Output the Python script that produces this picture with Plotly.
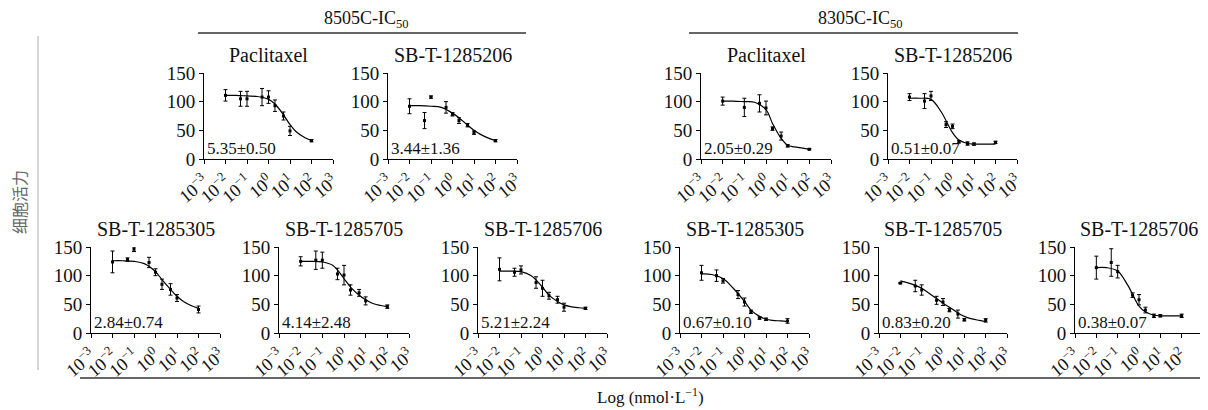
import plotly.graph_objects as go

# ---------------- data ----------------
conc = [0.01, 0.05, 0.1, 0.5, 1, 2, 5, 10, 100]
curve_x = [0.01, 0.03, 0.1, 0.3, 1, 2, 5, 10, 20, 50, 100]

titles = ["Paclitaxel", "SB-T-1285206", "Paclitaxel", "SB-T-1285206",
          "SB-T-1285305", "SB-T-1285705", "SB-T-1285706",
          "SB-T-1285305", "SB-T-1285705", "SB-T-1285706"]
ic50_text = ["5.35±0.50", "3.44±1.36", "2.05±0.29", "0.51±0.07",
             "2.84±0.74", "4.14±2.48", "5.21±2.24",
             "0.67±0.10", "0.83±0.20", "0.38±0.07"]

p1_mean = [111, 105, 105, 108, 108, 93, 75, 49, 32]
p1_err = [10, 13, 13, 15, 11, 10, 7, 8, 2]
p1_curve = [111, 111, 110, 109, 104, 96, 77, 60, 47, 37, 32]

p2_mean = [92, 67, 108, 90, 78, 67, 59, 46, 32]
p2_err = [13, 14, 2, 10, 3, 5, 3, 3, 2]
p2_curve = [93, 93, 92, 90, 80, 72, 59, 50, 43, 36, 32]

p3_mean = [101, None, 90, 97, 89, 53, 40, 23, 17]
p3_err = [7, 0, 16, 15, 12, 3, 7, 2, 1]
p3_curve = [101, 101, 100, 99, 86, 62, 36, 24, 21, 19, 17]

p4_mean = [108, 101, 110, 60, 57, 30, 27, 26, 29]
p4_err = [6, 13, 8, 5, 4, 2, 3, 2, 2]
p4_curve = [106, 106, 104, 82, 46, 33, 27, 26, 26, 26, 26]

p5_mean = [124, 128, 146, 123, 106, 85, 76, 61, 41]
p5_err = [19, 3, 4, 9, 6, 9, 10, 6, 6]
p5_curve = [126, 126, 125, 121, 107, 93, 76, 64, 55, 47, 43]

p6_mean = [125, 127, 127, 103, 101, 75, 70, 56, 46]
p6_err = [8, 16, 14, 10, 17, 9, 6, 7, 3]
p6_curve = [125, 125, 124, 118, 95, 80, 66, 58, 52, 48, 46]

p7_mean = [111, 106, 110, 88, 78, 65, 58, 45, 43]
p7_err = [20, 7, 7, 10, 14, 6, 6, 7, 2]
p7_curve = [108, 108, 107, 100, 80, 66, 55, 49, 46, 44, 43]

p8_mean = [105, 100, 91, 67, 54, 37, 26, 24, 21]
p8_err = [13, 10, 4, 7, 7, 3, 2, 2, 4]
p8_curve = [103, 102, 95, 78, 55, 40, 29, 24, 22, 21, 20]

p9_mean = [87, 82, 75, 57, 54, 40, 33, 23, 22]
p9_err = [1, 10, 9, 7, 6, 3, 7, 2, 3]
p9_curve = [91, 86, 78, 66, 52, 45, 35, 29, 25, 22, 20]

p10_mean = [114, 123, 107, 66, 58, 40, 30, 30, 30]
p10_err = [20, 24, 11, 4, 9, 5, 3, 2, 3]
p10_curve = [114, 114, 108, 83, 47, 37, 31, 30, 30, 30, 30]

x_tick_vals = [1e-3, 1e-2, 1e-1, 1, 10, 100, 1000]
x_tick_text = ["10<sup>−3</sup>", "10<sup>−2</sup>", "10<sup>−1</sup>", "10<sup>0</sup>",
               "10<sup>1</sup>", "10<sup>2</sup>", "10<sup>3</sup>"]
y_tick_vals = [0, 50, 100, 150]

means = [p1_mean, p2_mean, p3_mean, p4_mean, p5_mean, p6_mean, p7_mean, p8_mean, p9_mean, p10_mean]
errs = [p1_err, p2_err, p3_err, p4_err, p5_err, p6_err, p7_err, p8_err, p9_err, p10_err]
curves = [p1_curve, p2_curve, p3_curve, p4_curve, p5_curve, p6_curve, p7_curve, p8_curve, p9_curve, p10_curve]

# ---------------- layout geometry (window pixels) ----------------
OX, OY = 8, 8            # page body margin offset
W, H = 1200, 402         # figure size so that it fills the window exactly


def px(x):
    return (x - OX) / W


def py(y):
    return 1 - (y - OY) / H


panel_px = [(204, 333, 0), (388, 517, 0), (701, 831, 0), (888, 1017, 0),
            (91, 220, 1), (279, 409, 1), (478, 607, 1),
            (680, 809, 1), (879, 1007, 1), (1075, 1203, 1)]
row_y = {0: (73, 159), 1: (247, 333)}  # (pixel of 150, pixel of 0)

FONT = "Liberation Serif"

fig = go.Figure()
annotations = []
shapes = []

for i in range(10):
    l, r, row = panel_px[i]
    top, bot = row_y[row]
    ax = "" if i == 0 else str(i + 1)
    xa, ya = "x" + ax, "y" + ax
    fig.add_trace(go.Scatter(
        x=curve_x, y=curves[i], mode="lines", line=dict(color="black", width=1.2, shape="spline"),
        xaxis=xa, yaxis=ya, showlegend=False, hoverinfo="skip"))
    fig.add_trace(go.Scatter(
        x=conc, y=means[i], mode="markers",
        marker=dict(color="black", size=3, symbol="square"),
        error_y=dict(type="data", array=errs[i], color="black", thickness=1, width=2),
        xaxis=xa, yaxis=ya, showlegend=False, cliponaxis=False))
    fig.layout["xaxis" + ax] = dict(
        domain=[px(l), px(r)], anchor=ya, type="log", range=[-3, 3], automargin=False,
        tickvals=x_tick_vals, ticktext=x_tick_text, tickangle=-40,
        ticks="outside", ticklen=4, tickcolor="black", showline=True, linecolor="black",
        linewidth=1, showgrid=False, zeroline=False,
        tickfont=dict(family=FONT, size=18, color="#111"))
    fig.layout["yaxis" + ax] = dict(
        domain=[py(bot), py(top)], anchor=xa, range=[0, 150], automargin=False,
        tickvals=y_tick_vals, ticks="outside", ticklen=4, tickcolor="black",
        showline=True, linecolor="black", linewidth=1, showgrid=False, zeroline=False,
        tickfont=dict(family=FONT, size=19, color="#111"))
    annotations.append(dict(
        x=px((l + r) / 2), y=py(top - 18), xref="paper", yref="paper",
        text=titles[i], showarrow=False, xanchor="center", yanchor="middle",
        font=dict(family=FONT, size=20, color="#111")))
    annotations.append(dict(
        x=px(l + 1), y=py(bot - 11), xref="paper", yref="paper",
        text=ic50_text[i], showarrow=False, xanchor="left", yanchor="middle",
        font=dict(family=FONT, size=17, color="#111")))

for label, cx, x0, x1 in [("8505C-IC<sub>50</sub>", 366, 198, 526),
                          ("8305C-IC<sub>50</sub>", 860, 689, 1018)]:
    annotations.append(dict(x=px(cx), y=py(19), xref="paper", yref="paper", text=label,
                            showarrow=False, xanchor="center", yanchor="middle",
                            font=dict(family=FONT, size=18, color="#111")))
    shapes.append(dict(type="line", xref="paper", yref="paper", x0=px(x0), x1=px(x1),
                       y0=py(33), y1=py(33), line=dict(color="#333", width=1.3)))

annotations.append(dict(x=px(19), y=py(202), xref="paper", yref="paper", text="细胞活力",
                        showarrow=False, textangle=-90, xanchor="center", yanchor="middle",
                        font=dict(family="Noto Sans CJK SC", size=16, color="#666")))
shapes.append(dict(type="line", xref="paper", yref="paper", x0=px(38), x1=px(38),
                   y0=py(36), y1=py(370), line=dict(color="#c8c8c8", width=1.5)))
shapes.append(dict(type="line", xref="paper", yref="paper", x0=px(80), x1=1.0,
                   y0=py(378), y1=py(378), line=dict(color="#333", width=1.5)))
annotations.append(dict(x=px(650), y=py(396), xref="paper", yref="paper",
                        text="Log (nmol·L<sup>−1</sup>)", showarrow=False,
                        xanchor="center", yanchor="middle",
                        font=dict(family=FONT, size=17, color="#111")))

fig.update_layout(width=W, height=H, autosize=False,
                  margin=dict(l=0, r=0, t=0, b=0, pad=0, autoexpand=False),
                  plot_bgcolor="white", paper_bgcolor="white",
                  font=dict(family=FONT),
                  annotations=annotations, shapes=shapes)

fig.write_html("out.html")
